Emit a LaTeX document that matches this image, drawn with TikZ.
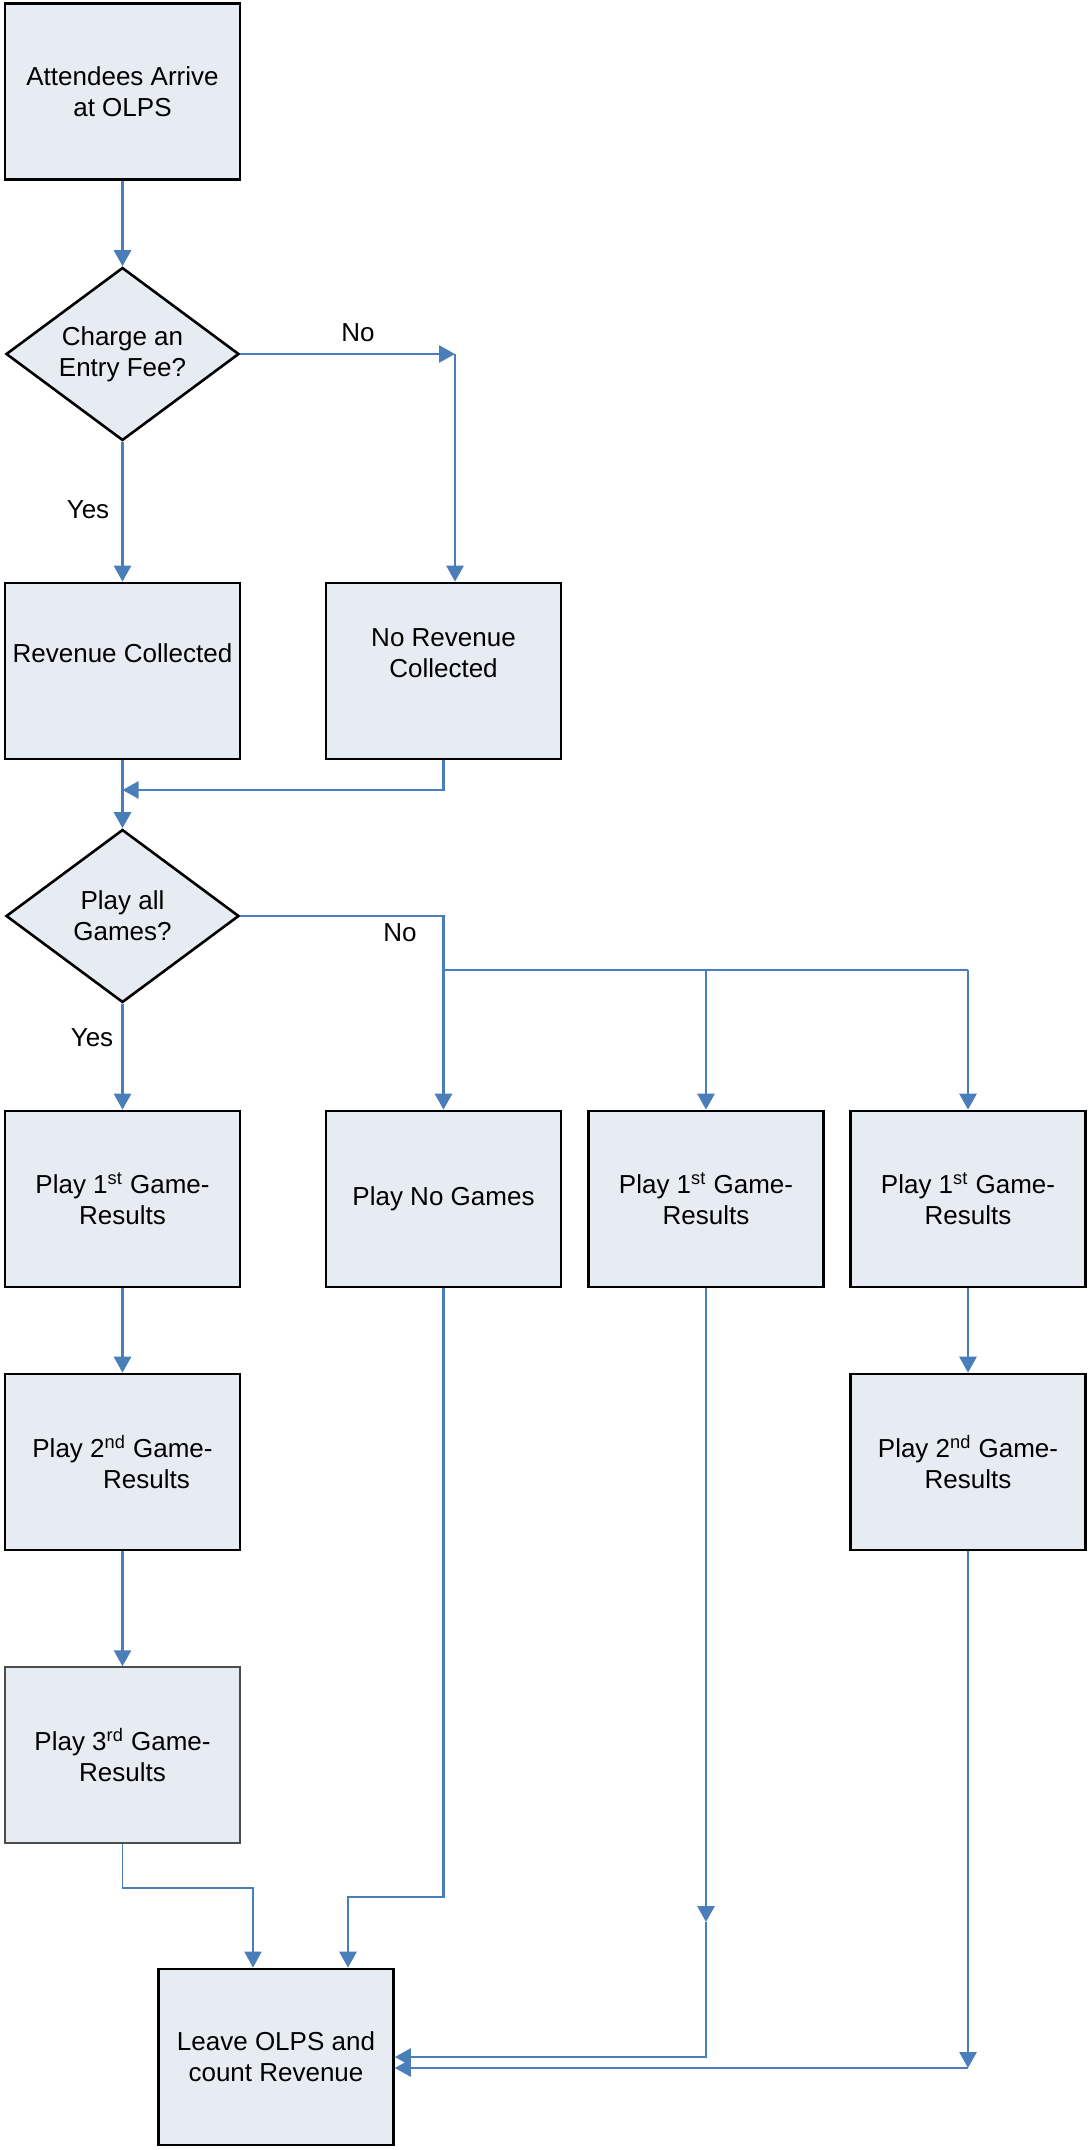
\documentclass[tikz,border=0pt]{standalone}
\usepackage{fontspec}
\setmainfont{Liberation Sans}
\usetikzlibrary{arrows.meta, shapes.geometric}
\definecolor{flowblue}{RGB}{74,126,187}
\definecolor{boxfill}{RGB}{231,236,243}

\begin{document}
\begin{tikzpicture}[x=0.5pt, y=-0.5pt,
    every node/.style={font=\fontsize{13}{15.5}\selectfont},
    procbox/.style={rectangle, draw=black, line width=1.3pt, fill=boxfill,
        minimum width=117.5pt, minimum height=88pt, inner sep=0pt, align=center},
    decision/.style={diamond, aspect=1.35, draw=black, line width=1.3pt, fill=boxfill,
        minimum width=116.5pt, minimum height=86.5pt, inner sep=0pt, align=center},
    flow/.style={draw=flowblue, line width=1.35pt, -{Triangle[length=8pt,width=8.5pt]}},
    wire/.style={draw=flowblue, line width=1.35pt},
    hightext/.style={text depth=18pt}]
    \useasboundingbox (0,0) rectangle (1091,2150);

    % Arrival and entry fee
    \node[procbox] (arrive) at (122.5,91.5) {Attendees Arrive\\at OLPS};
    \node[decision] (fee) at (122.5,354) {Charge an\\Entry Fee?};
    \node[procbox, hightext] (paid) at (122.5,671) {Revenue Collected};
    \node[procbox, hightext] (free) at (443.5,671) {No Revenue\\Collected};
    \node[decision] (games) at (122.5,916) {Play all\\Games?};

    % Game boxes
    \node[procbox] (g1) at (122.5,1199) {Play 1\textsuperscript{st} Game-\\Results};
    \node[procbox] (none) at (443.5,1199) {Play No Games};
    \node[procbox] (h1) at (706,1199) {Play 1\textsuperscript{st} Game-\\Results};
    \node[procbox] (t1) at (968,1199) {Play 1\textsuperscript{st} Game-\\Results};
    \node[procbox] (g2) at (122.5,1462) {Play 2\textsuperscript{nd} Game-\\\hspace*{24pt}Results};
    \node[procbox] (t2) at (968,1462) {Play 2\textsuperscript{nd} Game-\\Results};
    \node[procbox, draw=black!70, line width=0.7pt] (g3) at (122.5,1755) {Play 3\textsuperscript{rd} Game-\\Results};
    \node[procbox] (leave) at (276,2057) {Leave OLPS and\\count Revenue};

    % Entry fee branches
    \draw[flow] (arrive) -- (fee);
    \coordinate (nofee) at (455,354);
    \draw[flow] (fee.east) -- (nofee);
    \node (nolab1) at (358,333) {No};
    \draw[flow] (nofee) -- (nofee |- free.north);
    \draw[flow] (fee) -- (paid);
    \node (yeslab1) at (88,510) {Yes};
    \coordinate (merge) at (122.5,790);
    \draw[flow] (free.south) |- (merge);
    \draw[flow] (paid) -- (games);

    % Game choices
    \coordinate (split) at (443.5,970);
    \coordinate (splitend) at (968,970);
    \draw[wire] (games.east) -| (split) -- (splitend);
    \node (nolab2) at (400,933) {No};
    \draw[flow] (split) -- (none);
    \draw[flow] (h1 |- split) -- (h1);
    \draw[flow] (splitend) -- (t1);
    \draw[flow] (games) -- (g1);
    \node (yeslab2) at (92,1038) {Yes};
    \draw[flow] (g1) -- (g2);
    \draw[flow] (g2) -- (g3);
    \draw[flow] (t1) -- (t2);

    % Into the exit box
    \coordinate (bend3) at (253,1888);
    \draw[flow, line width=0.65pt] (g3.south) |- (bend3) -- (bend3 |- leave.north);
    \coordinate (bendn) at (348,1897);
    \draw[flow] (none.south) |- (bendn) -- (bendn |- leave.north);
    \coordinate (h1end) at (706,1922);
    \draw[flow] (h1) -- (h1end);
    \draw[flow] (h1end) |- (leave.east);
    \coordinate (t2end) at (968,2068);
    \draw[flow] (t2) -- (t2end);
    \draw[flow] (t2end) -- (t2end -| leave.east);
\end{tikzpicture}
\end{document}
